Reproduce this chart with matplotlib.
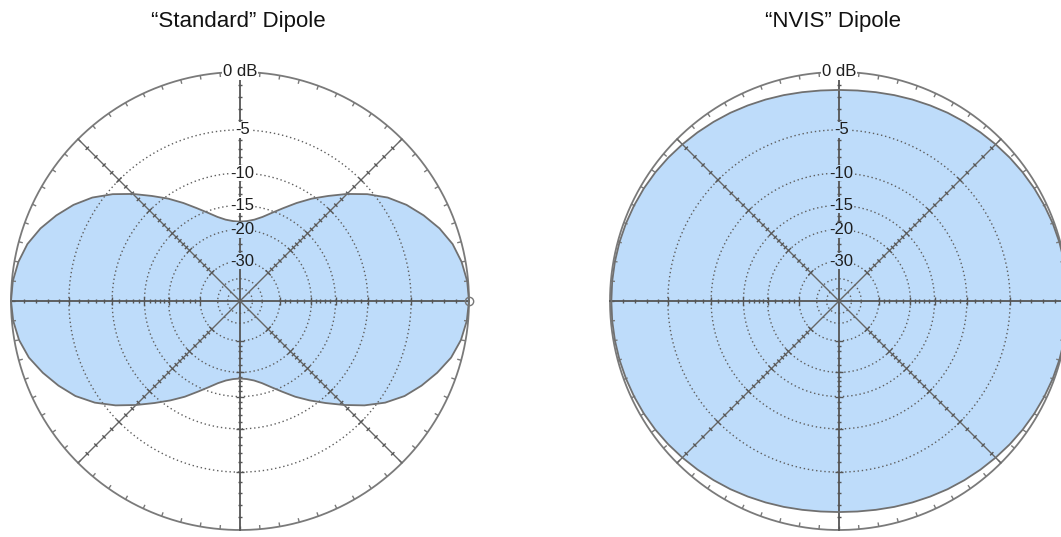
import numpy as np
import matplotlib.pyplot as plt
from matplotlib.collections import LineCollection

plt.rcParams['font.family'] = ['Liberation Sans', 'DejaVu Sans']

# Pattern values, every 5 degrees (0 = right, counter-clockwise)
angles = np.arange(0, 360, 5)
std_db = [0, -0.07, -0.3, -0.68, -1.3, -2.1, -3.0, -4.1, -5.5, -7.1, -8.8, -10.4, -12.1, -13.8, -15.3, -16.6, -17.5, -18.0, -18.2,
          -18.0, -17.5, -16.6, -15.3, -13.8, -12.1, -10.4, -8.8, -7.1, -5.5, -4.1, -3.0, -2.1, -1.3, -0.68, -0.3, -0.07, 0,
          -0.1, -0.35, -0.8, -1.5, -2.3, -3.2, -4.4, -5.9, -7.6, -9.3, -10.9, -12.5, -14.2, -15.7, -17.0, -17.9, -18.4, -18.6,
          -18.4, -17.9, -17.0, -15.7, -14.2, -12.5, -10.9, -9.3, -7.6, -5.9, -4.4, -3.2, -2.3, -1.5, -0.8, -0.35, -0.1]
nvis_db = [0, -0.01, -0.03, -0.07, -0.12, -0.19, -0.27, -0.36, -0.46, -0.57, -0.68, -0.79, -0.9, -1.02, -1.13, -1.23, -1.32, -1.38, -1.4,
           -1.38, -1.32, -1.23, -1.13, -1.02, -0.9, -0.79, -0.68, -0.57, -0.46, -0.36, -0.28, -0.22, -0.17, -0.13, -0.11, -0.1, -0.1,
           -0.1, -0.11, -0.13, -0.17, -0.22, -0.28, -0.36, -0.46, -0.57, -0.68, -0.79, -0.9, -1.02, -1.13, -1.23, -1.32, -1.38, -1.4,
           -1.38, -1.32, -1.23, -1.13, -1.02, -0.9, -0.79, -0.68, -0.57, -0.46, -0.36, -0.27, -0.19, -0.12, -0.07, -0.03, -0.01]

ring_db = [-5, -10, -15, -20, -30, -40, -50]
label_db = [-5, -10, -15, -20, -30]
label_txt = ['-5', '-10', '-15', '-20', '-30']
minor_db = [-1, -2, -3, -4, -6, -7, -8, -9, -11, -12, -13, -14, -16, -17, -18, -19, -22, -24, -26, -28]
titles = ['\u201cStandard\u201d Dipole', '\u201cNVIS\u201d Dipole']

fill_col = '#bedcfa'
edge_col = '#707070'
grid_col = '#5e5e5e'


def rad(db):
    # ARRL log scale: radius shrinks by 0.89 every 2 dB
    return 0.89 ** (-np.asarray(db, dtype=float) / 2)


def draw_polar(ax, db):
    th = np.radians(angles)
    r = rad(db)
    ax.fill(r * np.cos(th), r * np.sin(th), facecolor=fill_col, edgecolor='none', zorder=4)
    ax.fill(r * np.cos(th), r * np.sin(th), facecolor='none', edgecolor=edge_col, lw=1.3, zorder=6)

    t = np.linspace(0, 2 * np.pi, 400)
    # outer 0 dB circle
    ax.plot(np.cos(t), np.sin(t), color='#7a7a7a', lw=1.3, zorder=5)
    # dotted rings
    for d in ring_db:
        rr = rad(d)
        ax.plot(rr * np.cos(t), rr * np.sin(t), color=grid_col, lw=1.0, ls=(0, (1, 2)), zorder=5)

    # ticks on outer circle every 5 deg, pointing inward
    segs = []
    for a in np.radians(np.arange(0, 360, 5)):
        c, s = np.cos(a), np.sin(a)
        segs.append([(c, s), (0.982 * c, 0.982 * s)])
    ax.add_collection(LineCollection(segs, colors='#7a7a7a', lw=1.0, zorder=5))

    # radial lines with ticks
    for a_deg in [0, 45, 90, 135]:
        a = np.radians(a_deg)
        c, s = np.cos(a), np.sin(a)
        main = a_deg in (0, 90)
        ax.plot([-c, c], [-s, s], color='#555555' if main else '#666666',
                lw=1.3 if main else 1.0, zorder=5)
    segs = []
    for a in np.radians(np.arange(0, 360, 45)):
        c, s = np.cos(a), np.sin(a)
        for d, h in [(x, 0.010) for x in minor_db] + [(x, 0.016) for x in label_db]:
            rr = rad(d)
            segs.append([(rr * c - h * s, rr * s + h * c), (rr * c + h * s, rr * s - h * c)])
    ax.add_collection(LineCollection(segs, colors='#555555', lw=1.0, zorder=5))

    # small open circle at the 0 deg end
    ax.plot([1], [0], marker='o', ms=6, mfc='none', mec='#777777', mew=1.0, zorder=7)

    # ring labels along the vertical axis
    top = rad(db[list(angles).index(90)])
    for d, txt in zip(label_db, label_txt):
        bg = fill_col if rad(d) < top else 'white'
        ax.text(0.012, rad(d), txt, ha='center', va='center', fontsize=12, color='#1e1e1e', zorder=8,
                bbox=dict(facecolor=bg, edgecolor='none', pad=0.4))
    ax.text(0.0, 1.0, '0 dB', ha='center', va='center', fontsize=12, color='#1e1e1e', zorder=8,
            bbox=dict(facecolor='white', edgecolor='none', pad=0.4))

    lim = 240 / 229
    ax.set_xlim(-lim, lim)
    ax.set_ylim(-lim, lim)
    ax.axis('off')


fig = plt.figure(figsize=(10.61, 5.37), dpi=100)

centers = [240, 839]
title_x = [238, 833]
for i, db in enumerate([std_db, nvis_db]):
    ax = fig.add_axes([(centers[i] - 240) / 1061, (236 - 240) / 537, 480 / 1061, 480 / 537])
    draw_polar(ax, db)
    fig.text(title_x[i] / 1061, 1 - 22 / 537, titles[i], ha='center', va='center', fontsize=16, color='#111111')

fig.savefig('out.png', dpi=100)
